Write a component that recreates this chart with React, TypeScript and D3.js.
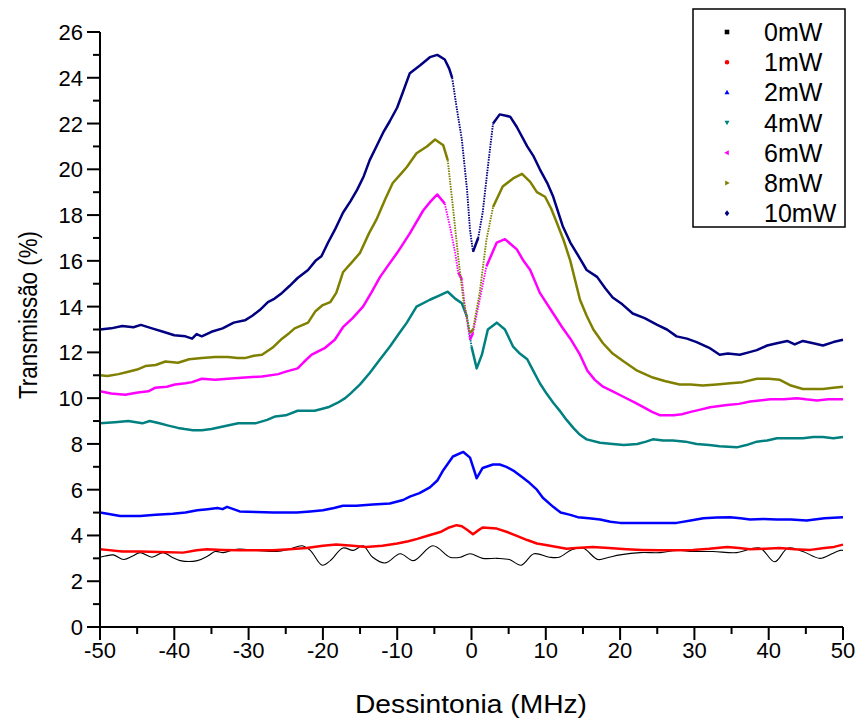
import React from "react";
import * as d3 from "d3";

type P = [number, number];

const seriesNames = ["0mW", "1mW", "2mW", "4mW", "6mW", "8mW", "10mW"];
const seriesColors = ["#000000", "#ff0000", "#0000ff", "#008080", "#ff00ff", "#808000", "#000080"];
const seriesSymbols = ["square", "circle", "up", "down", "left", "right", "diamond"];

const xTicks = [-50, -40, -30, -20, -10, 0, 10, 20, 30, 40, 50];
const xMinorTicks = [-45, -35, -25, -15, -5, 5, 15, 25, 35, 45];
const yTicks = [0, 2, 4, 6, 8, 10, 12, 14, 16, 18, 20, 22, 24, 26];
const yMinorTicks = [1, 3, 5, 7, 9, 11, 13, 15, 17, 19, 21, 23, 25];

const s10mW: P[] = [[-50,13.0],[-48.5,13.05],[-47,13.15],[-45.5,13.1],[-44.5,13.2],[-43,13.05],[-41.5,12.9],[-40,12.75],[-38.5,12.7],[-37.6,12.6],[-37,12.8],[-36.3,12.7],[-35,12.9],[-33.5,13.05],[-32,13.3],[-30.5,13.4],[-29.5,13.6],[-28.5,13.85],[-27.4,14.2],[-26.5,14.35],[-25.5,14.6],[-24.5,14.9],[-23.4,15.25],[-22,15.6],[-21,16.0],[-20.2,16.2],[-19.3,16.8],[-18.4,17.35],[-17.3,18.1],[-16.3,18.6],[-15.4,19.1],[-14.5,19.7],[-13.7,20.4],[-12.8,21.0],[-11.9,21.6],[-11,22.1],[-10,22.7],[-9.2,23.4],[-8.3,24.2],[-6.9,24.55],[-5.6,24.9],[-4.6,25.0],[-3.6,24.8],[-3.0,24.4],[-2.6,24.0],[-2.0,22.7],[-1.3,21.3],[-0.6,19.1],[-0.2,17.35],[0.2,16.4],[0.9,17.0],[1.5,18.1],[2.2,20.1],[2.9,22.0],[3.8,22.4],[5.2,22.3],[6.1,21.85],[7.5,21.0],[8.3,20.6],[9.2,20.0],[10.2,19.4],[11,18.8],[12.3,17.5],[13.3,16.8],[14.6,16.1],[15.5,15.6],[16.9,15.3],[18,14.8],[19.0,14.4],[20.3,14.1],[21.7,13.7],[23.3,13.5],[25,13.2],[26.3,13.0],[27.6,12.7],[29,12.6],[30.3,12.45],[32,12.2],[33.4,11.9],[34.5,11.95],[36.1,11.9],[37.3,12.0],[38.4,12.1],[39.8,12.3],[41.1,12.4],[42.5,12.5],[43.5,12.35],[44.6,12.5],[46,12.4],[47.3,12.3],[48.7,12.45],[50,12.55]];

const s8mW: P[] = [[-50,11.0],[-49,10.97],[-47.5,11.05],[-46.2,11.15],[-45,11.25],[-43.9,11.4],[-42.5,11.45],[-41.2,11.6],[-39.5,11.55],[-38,11.7],[-36.3,11.75],[-34.5,11.8],[-32.8,11.8],[-31.5,11.75],[-30.5,11.75],[-29.3,11.85],[-28.2,11.9],[-26.8,12.2],[-25.5,12.6],[-24.5,12.85],[-23.8,13.05],[-22,13.3],[-21,13.8],[-20.1,14.05],[-19,14.2],[-18.2,14.6],[-17.3,15.5],[-16.2,15.9],[-15,16.35],[-13.8,17.2],[-12.8,17.8],[-11.6,18.7],[-10.6,19.4],[-9.5,19.8],[-8.7,20.1],[-7.4,20.7],[-6,21.0],[-4.9,21.3],[-3.8,21.05],[-3.2,20.4],[-2.5,18.35],[-1.8,16.2],[-1.1,14.3],[-0.2,12.85],[0.2,13.0],[1.1,14.6],[2.0,16.9],[2.9,18.35],[4.2,19.25],[5.6,19.6],[6.8,19.8],[7.9,19.45],[8.8,19.0],[9.9,18.8],[10.7,18.3],[11.5,17.65],[12.4,16.9],[13.3,16.0],[14.6,14.3],[15.5,13.6],[16.4,13.0],[17.7,12.4],[19,11.95],[20.5,11.6],[22.3,11.2],[24.4,10.9],[26,10.75],[28,10.6],[29.5,10.6],[31.1,10.55],[33,10.6],[34.8,10.65],[36.5,10.7],[38.4,10.85],[40,10.85],[41.5,10.8],[43,10.55],[44.6,10.4],[46,10.4],[47.3,10.4],[48.7,10.45],[50,10.5]];

const s6mW: P[] = [[-50,10.3],[-48.5,10.2],[-46.6,10.15],[-44.9,10.25],[-43.5,10.3],[-42.6,10.45],[-41,10.5],[-39.9,10.6],[-38.5,10.65],[-37.6,10.7],[-36.3,10.85],[-34.5,10.8],[-32.8,10.85],[-30.5,10.9],[-28.2,10.95],[-26,11.05],[-25.1,11.15],[-23.4,11.3],[-22.5,11.6],[-21.5,11.9],[-19.7,12.2],[-18.4,12.55],[-17.3,13.1],[-16,13.5],[-14.6,14.0],[-13.5,14.6],[-12.3,15.3],[-11,15.9],[-10,16.35],[-8.3,17.2],[-6.5,18.2],[-5.5,18.6],[-4.6,18.9],[-3.6,18.5],[-2.9,17.5],[-2.2,16.35],[-1.8,15.5],[-1.3,15.2],[-0.9,14.0],[-0.2,12.55],[0.2,12.85],[1.1,14.3],[2.0,15.75],[3.4,16.8],[4.5,16.95],[6.1,16.5],[7.0,16.0],[7.9,15.6],[9.2,14.6],[11,13.7],[12.2,13.1],[13.3,12.6],[14.6,11.9],[15.6,11.2],[16.6,10.8],[17.7,10.5],[19,10.3],[20.5,10.05],[22,9.8],[23.2,9.6],[24.3,9.4],[25.4,9.25],[27.2,9.25],[28.3,9.3],[29.5,9.4],[30.8,9.5],[32.1,9.6],[34.4,9.7],[36,9.75],[37.5,9.85],[40.2,9.95],[42,9.95],[43.8,10.0],[45,9.95],[46.5,9.9],[48,9.95],[50,9.95]];

const s4mW: P[] = [[-50,8.9],[-48,8.95],[-46.2,9.0],[-44.3,8.9],[-43.3,9.0],[-42,8.9],[-40.8,8.8],[-39.5,8.7],[-38.6,8.65],[-37.5,8.6],[-36.3,8.6],[-35,8.65],[-33.6,8.75],[-31.4,8.9],[-29.1,8.9],[-27.5,9.05],[-26.4,9.2],[-25,9.25],[-23.4,9.45],[-21.1,9.45],[-19.3,9.6],[-18,9.8],[-17,10.0],[-16.3,10.2],[-15,10.6],[-13.7,11.1],[-12.3,11.7],[-11,12.25],[-9.8,12.8],[-8.7,13.3],[-7.4,14.0],[-5.6,14.3],[-4.2,14.5],[-3.2,14.65],[-2.2,14.35],[-1.3,14.15],[-0.6,13.55],[0.0,12.25],[0.7,11.3],[1.4,11.9],[2.2,13.0],[3.4,13.3],[4.5,13.0],[5.6,12.25],[6.5,11.95],[7.5,11.7],[8.3,11.2],[9.2,10.65],[10.1,10.2],[11,9.8],[12,9.4],[12.8,9.05],[13.7,8.7],[14.6,8.4],[15.5,8.2],[17.3,8.05],[19,8.0],[20.5,7.95],[22.3,8.0],[23.5,8.1],[24.4,8.2],[25.8,8.15],[27.1,8.15],[28.8,8.1],[30.3,8.0],[32,7.95],[33.4,7.9],[35.7,7.85],[37,7.95],[38.4,8.1],[39.8,8.15],[41.1,8.25],[43,8.25],[44.6,8.25],[46,8.3],[47.3,8.3],[48.7,8.25],[50,8.3]];

const s2mW: P[] = [[-50,5.0],[-49,4.95],[-47.3,4.85],[-46,4.85],[-44.6,4.85],[-42.5,4.9],[-40.2,4.95],[-38.5,5.0],[-36.9,5.1],[-35.5,5.15],[-34.2,5.2],[-33.5,5.15],[-32.9,5.25],[-31.2,5.05],[-29,5.02],[-26.7,5.0],[-25,5.0],[-23.5,5.0],[-21.7,5.05],[-20,5.1],[-18.5,5.2],[-17.3,5.3],[-15.5,5.3],[-13.3,5.35],[-11,5.4],[-9.2,5.55],[-8.3,5.7],[-7,5.85],[-5.6,6.1],[-4.6,6.4],[-3.8,6.85],[-2.5,7.45],[-1.1,7.65],[-0.2,7.4],[0.7,6.5],[1.5,6.95],[2.9,7.1],[3.8,7.1],[4.7,7.0],[5.8,6.8],[6.8,6.55],[7.8,6.3],[8.8,6.0],[9.6,5.65],[11,5.25],[12,5.0],[13.3,4.9],[14.3,4.8],[15.8,4.75],[17.3,4.7],[18.7,4.6],[20,4.55],[21.5,4.55],[23.1,4.55],[25.3,4.55],[27.6,4.55],[29.5,4.65],[31.2,4.75],[33,4.78],[34.8,4.8],[36.2,4.75],[37.5,4.7],[39.3,4.72],[41.1,4.7],[43,4.7],[45.1,4.65],[47.5,4.75],[50,4.8]];

const s1mW: P[] = [[-50,3.4],[-49.1,3.37],[-47,3.3],[-44.6,3.3],[-42,3.28],[-38.8,3.25],[-37,3.35],[-35.6,3.4],[-33.5,3.37],[-31.2,3.35],[-29,3.35],[-26.7,3.35],[-24.5,3.4],[-22.2,3.45],[-20,3.55],[-18.2,3.6],[-16,3.55],[-14.2,3.5],[-12,3.55],[-10,3.65],[-8.5,3.75],[-7.3,3.85],[-5.8,4.0],[-4.2,4.15],[-3,4.35],[-2.0,4.45],[-1.3,4.4],[-0.6,4.25],[0.2,4.05],[0.8,4.2],[1.5,4.35],[3.4,4.3],[4.8,4.15],[6.1,3.98],[7.5,3.8],[8.8,3.65],[10,3.58],[11.5,3.5],[12.8,3.42],[14.1,3.45],[16.3,3.5],[18.5,3.45],[20.9,3.4],[23,3.37],[25.4,3.35],[27.5,3.35],[29.8,3.37],[32,3.42],[34.4,3.5],[36,3.45],[37.5,3.4],[39.5,3.42],[41.5,3.45],[43.5,3.4],[45.6,3.37],[47.5,3.45],[48.8,3.5],[50,3.6]];

const s0mW: P[] = [[-50,3.05],[-49.3,3.1],[-48.2,3.15],[-46.8,2.95],[-45.6,3.1],[-44.6,3.25],[-43,3.05],[-41.5,3.25],[-40.3,3.05],[-39.2,2.9],[-36.9,2.9],[-35.5,3.1],[-34.5,3.3],[-33.4,3.25],[-31.6,3.4],[-28.9,3.35],[-26.2,3.3],[-24.5,3.4],[-22.8,3.55],[-21.7,3.35],[-20.1,2.7],[-19,2.9],[-17.3,3.45],[-15.9,3.35],[-14.6,3.55],[-13.3,3.05],[-11.6,2.8],[-9.6,3.2],[-7.8,2.9],[-5.2,3.55],[-2.9,3.05],[-1.5,3.05],[-0.2,3.2],[1.5,3.0],[3.4,3.0],[5.1,2.95],[6.7,2.7],[8.4,3.2],[10.5,3.05],[11.8,3.05],[13.5,3.38],[15,3.45],[17,2.95],[18.5,3.05],[20,3.15],[22.7,3.25],[25.4,3.25],[27.6,3.35],[29.8,3.3],[32.5,3.3],[35.7,3.25],[38.8,3.45],[40.8,2.85],[42.6,3.45],[44.6,3.3],[46.9,3.0],[48.5,3.2],[49.6,3.35],[50,3.35]];

const seriesData: P[][] = [s0mW, s1mW, s2mW, s4mW, s6mW, s8mW, s10mW];

const W = 857;
const H = 718;
const M = { left: 100, right: 843, top: 32, bottom: 627 };
const FONT = "'Liberation Sans', Arial, sans-serif";

function symbolPath(kind: string, cx: number, cy: number, r: number): string {
  switch (kind) {
    case "square":
      return `M${cx - r},${cy - r}h${2 * r}v${2 * r}h${-2 * r}Z`;
    case "circle":
      return `M${cx - r},${cy}a${r},${r} 0 1,0 ${2 * r},0a${r},${r} 0 1,0 ${-2 * r},0Z`;
    case "up":
      return `M${cx},${cy - r * 1.2}L${cx + r * 1.1},${cy + r * 0.8}L${cx - r * 1.1},${cy + r * 0.8}Z`;
    case "down":
      return `M${cx},${cy + r * 1.2}L${cx + r * 1.1},${cy - r * 0.8}L${cx - r * 1.1},${cy - r * 0.8}Z`;
    case "left":
      return `M${cx - r * 1.2},${cy}L${cx + r * 0.8},${cy - r * 1.1}L${cx + r * 0.8},${cy + r * 1.1}Z`;
    case "right":
      return `M${cx + r * 1.2},${cy}L${cx - r * 0.8},${cy - r * 1.1}L${cx - r * 0.8},${cy + r * 1.1}Z`;
    default:
      return `M${cx},${cy - r * 1.3}L${cx + r},${cy}L${cx},${cy + r * 1.3}L${cx - r},${cy}Z`;
  }
}

export default function App() {
  const x = d3.scaleLinear().domain([-50, 50]).range([M.left, M.right]);
  const y = d3.scaleLinear().domain([0, 26]).range([M.bottom, M.top]);

  const lineSmooth = d3
    .line<P>()
    .x((d) => x(d[0]))
    .y((d) => y(d[1]))
    .curve(d3.curveCatmullRom.alpha(0.5));
  const lineLin = d3
    .line<P>()
    .x((d) => x(d[0]))
    .y((d) => y(d[1]))
    .curve(d3.curveLinear);

  // split a series into runs of gentle (solid) and steep (sparse, dotted-looking) segments
  const splitRuns = (data: P[]) => {
    const runs: { steep: boolean; pts: P[] }[] = [];
    for (let k = 0; k < data.length - 1; k++) {
      const a = data[k];
      const b = data[k + 1];
      const dxp = Math.abs(x(b[0]) - x(a[0]));
      const dyp = Math.abs(y(b[1]) - y(a[1]));
      const steep = dyp / Math.max(dxp, 0.01) > 4.4;
      const last = runs[runs.length - 1];
      if (last && last.steep === steep) last.pts.push(b);
      else runs.push({ steep, pts: [a, b] });
    }
    return runs;
  };

  const legendX = 693;
  const legendY = 9;
  const legendW = 152;
  const legendH = 218;
  const rowY = (i: number) => 32 + i * 30.2;

  return (
    <svg
      width={W}
      height={H}
      style={{ position: "absolute", left: 0, top: 0, background: "#fff" }}
      fontFamily={FONT}
    >
      <rect x={0} y={0} width={W} height={H} fill="#fff" />
      {/* series */}
      {seriesData.map((data, i) =>
        i === 0 ? (
          <path
            key={seriesNames[i]}
            d={lineSmooth(data) || ""}
            fill="none"
            stroke={seriesColors[i]}
            strokeWidth={1.1}
            strokeLinejoin="round"
          />
        ) : (
          <g key={seriesNames[i]}>
            {splitRuns(data).map((r, j) => (
              <path
                key={j}
                d={lineLin(r.pts) || ""}
                fill="none"
                stroke={seriesColors[i]}
                strokeWidth={r.steep ? 1.9 : 2.5}
                strokeDasharray={r.steep ? "1.5 1.1" : undefined}
                strokeLinejoin="round"
              />
            ))}
          </g>
        )
      )}
      {/* axes */}
      <line x1={M.left} x2={M.right} y1={M.bottom} y2={M.bottom} stroke="#000" strokeWidth={2} />
      <line x1={M.left} x2={M.left} y1={M.bottom + 1} y2={M.top} stroke="#000" strokeWidth={2} />
      {xTicks.map((t) => (
        <g key={"xt" + t}>
          <line x1={x(t)} x2={x(t)} y1={M.bottom} y2={M.bottom + 13} stroke="#000" strokeWidth={2} />
          <text x={x(t)} y={658} textAnchor="middle" fontSize={22} fill="#000">
            {t}
          </text>
        </g>
      ))}
      {xMinorTicks.map((t) => (
        <line key={"xm" + t} x1={x(t)} x2={x(t)} y1={M.bottom} y2={M.bottom + 7} stroke="#000" strokeWidth={2} />
      ))}
      {yTicks.map((t) => (
        <g key={"yt" + t}>
          <line x1={M.left - 13} x2={M.left} y1={y(t)} y2={y(t)} stroke="#000" strokeWidth={2} />
          <text x={83} y={y(t) + 8} textAnchor="end" fontSize={22} fill="#000">
            {t}
          </text>
        </g>
      ))}
      {yMinorTicks.map((t) => (
        <line key={"ym" + t} x1={M.left - 7} x2={M.left} y1={y(t)} y2={y(t)} stroke="#000" strokeWidth={2} />
      ))}
      {/* axis titles */}
      <text x={471} y={713} textAnchor="middle" fontSize={26} textLength={232} lengthAdjust="spacingAndGlyphs" fill="#000">
        Dessintonia (MHz)
      </text>
      <text
        transform={`translate(37,${315}) rotate(-90)`}
        textAnchor="middle"
        fontSize={25}
        textLength={168}
        lengthAdjust="spacingAndGlyphs"
        fill="#000"
      >
        Transmissão (%)
      </text>
      {/* legend */}
      <rect x={legendX} y={legendY} width={legendW} height={legendH} fill="#fff" stroke="#000" strokeWidth={1.5} />
      {seriesNames.map((n, i) => (
        <g key={"lg" + n}>
          <path d={symbolPath(seriesSymbols[i], 727, rowY(i), 2.3)} fill={seriesColors[i]} />
          <text x={764} y={rowY(i) + 9} fontSize={25} fill="#000">
            {n}
          </text>
        </g>
      ))}
    </svg>
  );
}
